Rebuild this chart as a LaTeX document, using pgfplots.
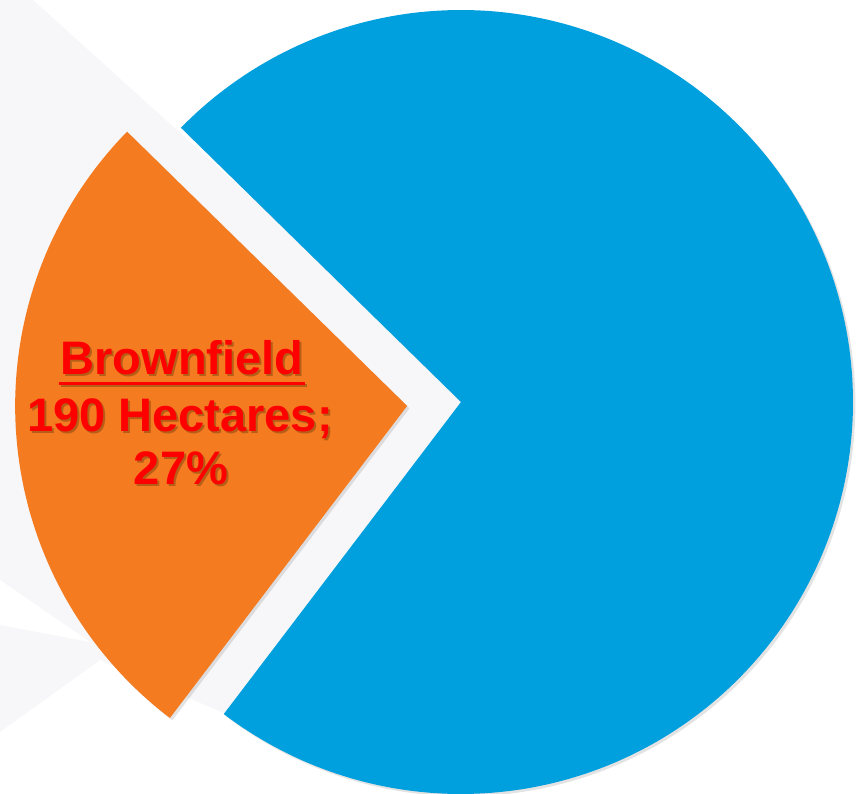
\documentclass[border=0pt]{standalone}
\usepackage{pgfplots}
\pgfplotsset{compat=1.18}
\usepackage{pgfplotstable}
\usepackage{fontspec}
\setmainfont{Liberation Sans}
\usetikzlibrary{shadows}
\definecolor{pieblue}{HTML}{00A0DF}
\definecolor{pieorange}{HTML}{F47B20}
\definecolor{bggray}{HTML}{F7F7F9}
\definecolor{lblred}{HTML}{FF0000}
\definecolor{txtshadow}{HTML}{6B3A10}

\pgfplotstableread{
label value
Brownfield 190
Other 514
}\piedata

\newcommand\ulbox[1]{\setbox0\hbox{#1}\rlap{\kern-1bp\rule[-5bp]{\dimexpr\wd0+2bp\relax}{1.5bp}}\box0}
\tikzset{lbl/.style={anchor=base,font=\fontsize{23.5bp}{28bp}\selectfont\bfseries},
  lblshadow/.style={lbl,text=txtshadow,opacity=0.45,xshift=1bp,yshift=-1bp},
  lblmain/.style={lbl,text=lblred}}

\begin{document}%
\begin{tikzpicture}
\pgfplotstablegetelem{0}{value}\of\piedata \let\va\pgfplotsretval
\pgfplotstablegetelem{1}{value}\of\piedata \let\vb\pgfplotsretval
\pgfmathsetmacro\fracA{\va/(\va+\vb)}
\pgfmathsetmacro\angA{135.6}
\pgfmathsetmacro\angB{\angA+360*\fracA}
\pgfmathsetmacro\angC{\angA+360}
\pgfmathsetmacro\bis{(\angA+\angB)/2}
\pgfmathsetmacro\ocx{461+54*cos(\bis)}
\pgfmathsetmacro\ocy{392+54*sin(\bis)}
\begin{axis}[x=0.5bp,y=0.5bp,xmin=0,xmax=858,ymin=0,ymax=794,
  hide axis, clip=true]
% background
\addplot[fill=white,draw=none] coordinates {(0,0)(858,0)(858,794)(0,794)} -- cycle;
\addplot[fill=bggray,draw=none] coordinates {(0,794)(33,794)(470,399)(240,74)(100,134)(0,62)} -- cycle;
\addplot[fill=white,draw=none] coordinates {(0,214)(90,152)(0,169)} -- cycle;
% blue slice
\addplot[fill=pieblue,draw=none,
  drop shadow={opacity=0.22,shadow xshift=1.2bp,shadow yshift=-1.2bp},
  domain=\angB:\angC,samples=240,variable=\t]
  ({461+392*cos(\t)},{392+392*sin(\t)}) -- (461,392) -- cycle;
% orange slice (exploded)
\addplot[fill=pieorange,draw=none,
  drop shadow={opacity=0.22,shadow xshift=1.2bp,shadow yshift=-1.2bp},
  domain=\angA:\angB,samples=120,variable=\t]
  ({\ocx+392*cos(\t)},{\ocy+392*sin(\t)}) -- (\ocx,\ocy) -- cycle;
% label
\node[lblshadow] at (182,419) {\ulbox{Brownfield}};
\node[lblshadow] at (180,362) {190 Hectares;};
\node[lblshadow] at (181,309) {27\%};
\node[lblmain] at (182,419) {\ulbox{Brownfield}};
\node[lblmain] at (180,362) {190 Hectares;};
\node[lblmain] at (181,309) {27\%};
\end{axis}
\end{tikzpicture}%
\end{document}
